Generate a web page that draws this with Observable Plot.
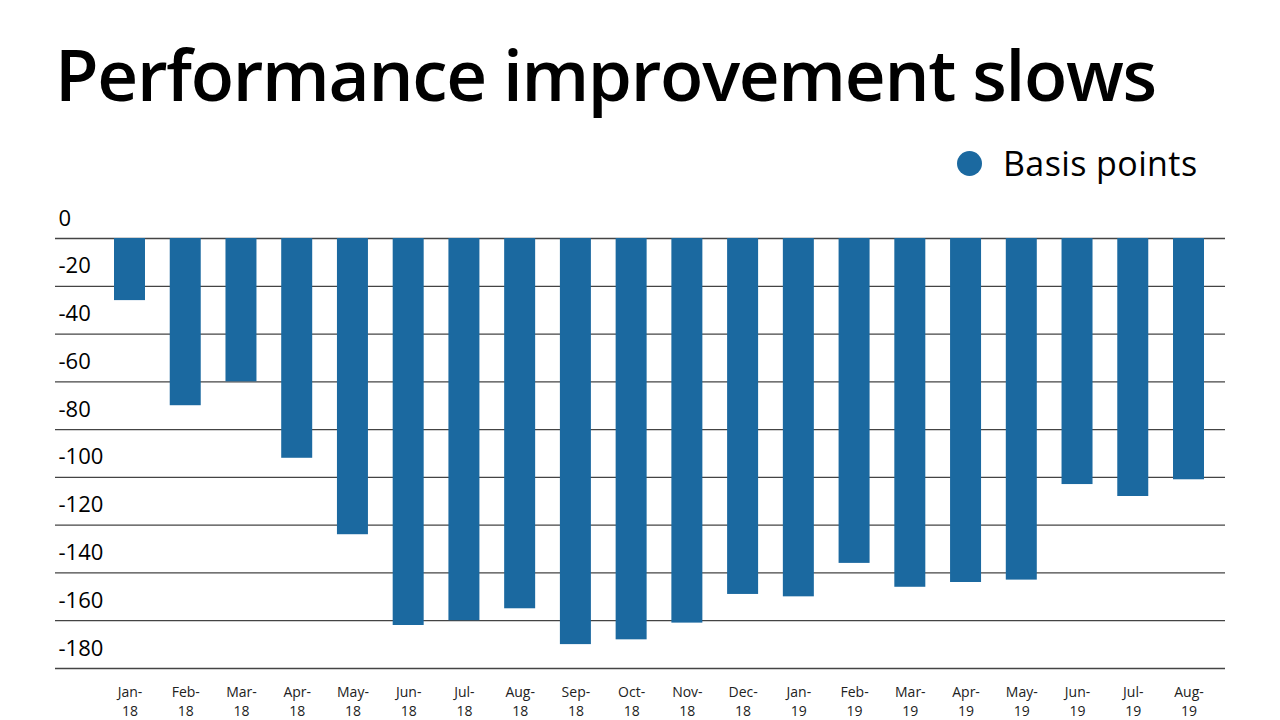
<!DOCTYPE html>
<html>
<head>
<meta charset="utf-8">
<script src="https://cdn.jsdelivr.net/npm/d3@7"></script>
<script src="https://cdn.jsdelivr.net/npm/@observablehq/plot@0.6"></script>
<style>
  html, body { margin: 0; padding: 0; background: #fff; }
  #wrap { position: relative; width: 1280px; height: 720px; overflow: hidden; font-family: "Open Sans", sans-serif; }
  #title { position: absolute; left: 55px; top: 38px; font-size: 71px; font-weight: 600; color: #000; white-space: nowrap; line-height: 1; letter-spacing: -1.3px; }
  #legend { position: absolute; left: 957px; top: 140px; display: flex; align-items: center; font-size: 34px; letter-spacing: 0.4px; color: #000; }
  #legend .dot { width: 25px; height: 25px; border-radius: 50%; background: #1b69a0; margin-right: 21px; }
  #chart { position: absolute; left: 0; top: 200px; }
</style>
</head>
<body>
<div id="wrap">
  <div id="title">Performance improvement slows</div>
  <div id="legend"><span class="dot"></span><span>Basis points</span></div>
  <div id="chart"></div>
</div>
<script>
const months = ["Jan-18","Feb-18","Mar-18","Apr-18","May-18","Jun-18","Jul-18","Aug-18","Sep-18","Oct-18",
                "Nov-18","Dec-18","Jan-19","Feb-19","Mar-19","Apr-19","May-19","Jun-19","Jul-19","Aug-19"];
const values = [-26,-70,-60,-92,-124,-162,-160,-155,-170,-168,-161,-149,-150,-136,-146,-144,-143,-103,-108,-101];
const yTicks = [0,-20,-40,-60,-80,-100,-120,-140,-160,-180];
const seriesName = "Basis points";

const data = months.map((m, i) => ({month: m, value: values[i], line1: m.split("-")[0] + "-", line2: m.split("-")[1]}));

const chart = Plot.plot({
  width: 1280,
  height: 520,
  marginLeft: 55,
  marginRight: 55,
  marginTop: 38,
  marginBottom: 52,
  style: {fontFamily: "Open Sans, sans-serif", background: "transparent"},
  x: {domain: months, insetLeft: 59, insetRight: 21, paddingInner: 0.444, paddingOuter: 0, round: false, axis: null},
  y: {domain: [-180, 0], axis: null},
  marks: [
    Plot.ruleY(yTicks, {stroke: "#444", strokeWidth: 1.3}),
    Plot.barY(data, {x: "month", y: "value", fill: "#1b69a0"}),
    Plot.text(yTicks, {y: d => d, text: d => String(d), frameAnchor: "left", textAnchor: "start", dx: 3, dy: -20, fontSize: 22, fill: "#000"}),
    Plot.text(data, {x: "month", text: "line1", frameAnchor: "bottom", dy: 28, fontSize: 14, fill: "#222"}),
    Plot.text(data, {x: "month", text: "line2", frameAnchor: "bottom", dy: 47, fontSize: 14, fill: "#222"})
  ]
});
document.getElementById("chart").appendChild(chart);
</script>
</body>
</html>
